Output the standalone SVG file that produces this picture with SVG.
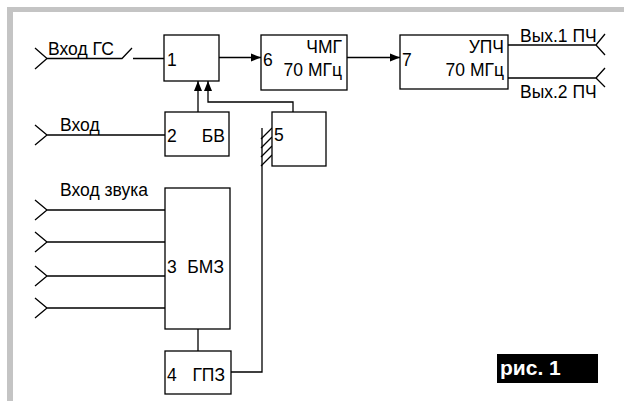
<svg xmlns="http://www.w3.org/2000/svg" width="624" height="401" viewBox="0 0 624 401">
<defs>
<style>
.b{fill:#fff;stroke:#000;stroke-width:1.3}
.l{fill:none;stroke:#000;stroke-width:1.3}
.t{font-family:"Liberation Sans",Arial,sans-serif;font-size:17.5px;fill:#000}
.e{text-anchor:end}
</style>
<marker id="ah" viewBox="0 0 10 10" refX="10" refY="5" markerWidth="10" markerHeight="10" markerUnits="userSpaceOnUse" orient="auto">
<path d="M0,1 L10,5 L0,9 Z" fill="#000"/>
</marker>
</defs>
<rect x="0" y="0" width="624" height="401" fill="#fff"/>
<rect x="7" y="7" width="617" height="5" fill="#c4c4c4"/>
<rect x="7" y="7" width="6" height="394" fill="#c4c4c4"/>

<g id="connectors">
<path class="l" d="M35,48 L47,58.5 L35,69 M47,58.5 H122 L132,48 M133,58.5 H164"/>
<path class="l" d="M219,57.5 H261" marker-end="url(#ah)"/>
<path class="l" d="M347,57.5 H400" marker-end="url(#ah)"/>
<path class="l" d="M508,45 H596 L605,34 M596,45 L605,55"/>
<path class="l" d="M508,78 H596 L605,68 M596,78 L605,87"/>
<path class="l" d="M35,125 L47,135 L35,145 M47,135 H165"/>
<path class="l" d="M198,112 V81" marker-end="url(#ah)"/>
<path class="l" d="M293,112 V102 H208 V81" marker-end="url(#ah)"/>
<path class="l" d="M35,200 L47,210 L35,220 M47,210 H165"/>
<path class="l" d="M35,232 L47,242 L35,252 M47,242 H165"/>
<path class="l" d="M35,266 L47,276 L35,286 M47,276 H165"/>
<path class="l" d="M35,298 L47,308 L35,318 M47,308 H165"/>
<path class="l" d="M198,329 V351"/>
<path class="l" d="M231,372 H262 V128"/>
<path class="l" d="M261,139 L272,128 M261,148 L272,137 M261,157 L272,146 M261,166 L272,155"/>
</g>

<g id="n1"><rect class="b" x="164" y="35" width="55" height="46"/><text class="t" x="167" y="66">1</text></g>
<g id="n6"><rect class="b" x="261" y="35" width="86" height="55"/><text class="t" x="263" y="66">6</text><text class="t e" x="342" y="53">ЧМГ</text><text class="t e" x="342" y="76">70 МГц</text></g>
<g id="n7"><rect class="b" x="400" y="35" width="108" height="54"/><text class="t" x="402" y="66">7</text><text class="t e" x="504" y="53">УПЧ</text><text class="t e" x="504" y="76">70 МГц</text></g>
<g id="n2"><rect class="b" x="165" y="112" width="64" height="44"/><text class="t" x="167" y="142">2</text><text class="t e" x="225" y="142">БВ</text></g>
<g id="n5"><rect class="b" x="272" y="112" width="54" height="54"/><text class="t" x="274" y="141">5</text></g>
<g id="n3"><rect class="b" x="165" y="188" width="65" height="141"/><text class="t" x="167" y="273">3</text><text class="t e" x="224" y="273">БМЗ</text></g>
<g id="n4"><rect class="b" x="165" y="351" width="66" height="43"/><text class="t" x="167" y="381">4</text><text class="t e" x="225" y="381">ГПЗ</text></g>

<g id="labels">
<text class="t" x="48" y="55">Вход ГС</text>
<text class="t" x="60" y="131">Вход</text>
<text class="t" x="60" y="196">Вход звука</text>
<text class="t" x="520" y="42">Вых.1 ПЧ</text>
<text class="t" x="520" y="98">Вых.2 ПЧ</text>
</g>
<g id="caption">
<rect x="497" y="354" width="101" height="29" fill="#000"/>
<text x="500" y="375" font-family="'Liberation Sans',Arial,sans-serif" font-size="21" font-weight="bold" fill="#fff">рис. 1</text>
</g>
</svg>
